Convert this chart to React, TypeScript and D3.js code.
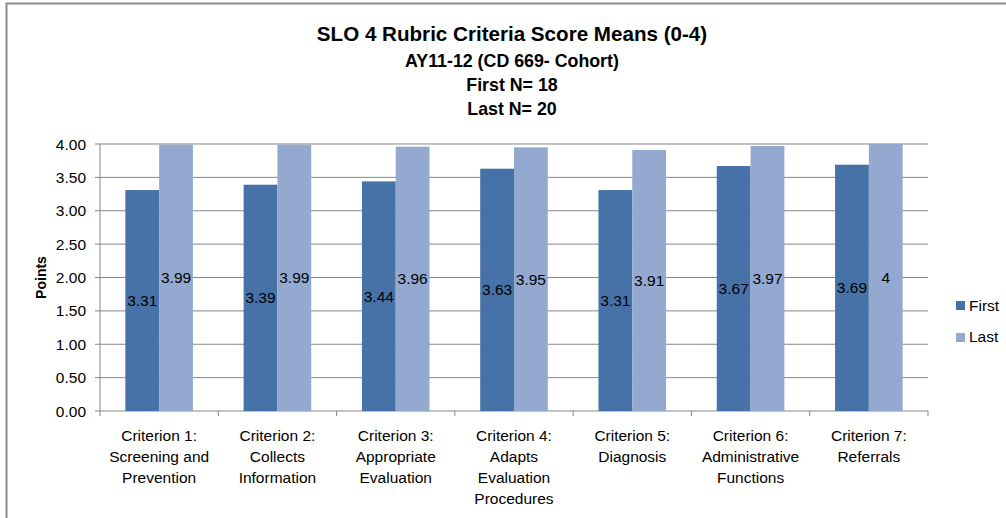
import React from "react";
import * as d3 from "d3";

const categories: string[][] = [
  ["Criterion 1:", "Screening and", "Prevention"],
  ["Criterion 2:", "Collects", "Information"],
  ["Criterion 3:", "Appropriate", "Evaluation"],
  ["Criterion 4:", "Adapts", "Evaluation", "Procedures"],
  ["Criterion 5:", "Diagnosis"],
  ["Criterion 6:", "Administrative", "Functions"],
  ["Criterion 7:", "Referrals"],
];
const firstValues = [3.31, 3.39, 3.44, 3.63, 3.31, 3.67, 3.69];
const lastValues = [3.99, 3.99, 3.96, 3.95, 3.91, 3.97, 4];
const firstLabels = ["3.31", "3.39", "3.44", "3.63", "3.31", "3.67", "3.69"];
const lastLabels = ["3.99", "3.99", "3.96", "3.95", "3.91", "3.97", "4"];
const yTicks = [0, 0.5, 1, 1.5, 2, 2.5, 3, 3.5, 4];
const seriesNames = ["First", "Last"];
const titleLines = ["SLO 4 Rubric Criteria Score Means (0-4)", "AY11-12 (CD 669- Cohort)", "First N= 18", "Last N= 20"];

const W = 1006;
const H = 518;
const FONT = "'Liberation Sans', Arial, sans-serif";
const COLORS = ["#4672A8", "#93A9D0"];

export default function App() {
  const left = 100, right = 928, top = 144, bottom = 411;
  const x = d3.scaleBand<number>().domain(d3.range(categories.length)).range([left, right]);
  const y = d3.scaleLinear().domain([0, 4]).range([bottom, top]);
  const bw = x.bandwidth() / 3.5;
  const series = [firstValues, lastValues];
  const labels = [firstLabels, lastLabels];

  return (
    <svg width={W} height={H} style={{ position: "absolute", left: 0, top: 0 }} fontFamily={FONT}>
      <rect x={0} y={0} width={W} height={H} fill="#fff" />
      <path d={`M6.5,${H} V3.5 H${W}`} fill="none" stroke="#8c8c8c" strokeWidth={2} />
      {titleLines.map((t, i) => (
        <text key={i} x={512} y={[41, 67, 91, 115][i]} textAnchor="middle" fontWeight="bold"
          fontSize={i === 0 ? 20.6 : 17.8} fill="#000">{t}</text>
      ))}
      {yTicks.map((t) => (
        <g key={t}>
          <line x1={left - 5} x2={right} y1={y(t)} y2={y(t)} stroke="#878787" strokeWidth={1} />
          <text x={left - 14} y={y(t)} dy="0.36em" textAnchor="end" fontSize={15.5} fill="#000">{t.toFixed(2)}</text>
        </g>
      ))}
      <line x1={left} x2={left} y1={top} y2={bottom} stroke="#878787" />
      {d3.range(categories.length + 1).map((i) => {
        const xx = left + i * x.step();
        return <line key={i} x1={xx} x2={xx} y1={bottom} y2={bottom + 5} stroke="#878787" />;
      })}
      {series.map((vals, s) =>
        vals.map((v, i) => {
          const bx = (x(i) as number) + bw * 0.75 + s * bw;
          return (
            <g key={`${s}-${i}`}>
              <rect x={bx} y={y(v)} width={bw} height={bottom - y(v)} fill={COLORS[s]} />
              <text x={bx + bw / 2} y={y(v / 2)} dy="0.36em" textAnchor="middle" fontSize={15.5} fill="#000">
                {labels[s][i]}
              </text>
            </g>
          );
        })
      )}
      {categories.map((lines, i) => (
        <text key={i} textAnchor="middle" fontSize={15.5} fill="#000">
          {lines.map((l, j) => (
            <tspan key={j} x={(x(i) as number) + x.bandwidth() / 2} y={441 + j * 21}>{l}</tspan>
          ))}
        </text>
      ))}
      <text transform={`translate(46,${(top + bottom) / 2}) rotate(-90)`} textAnchor="middle" fontWeight="bold" fontSize={14}>Points</text>
      {seriesNames.map((n, i) => (
        <g key={n}>
          <rect x={956} y={[301, 333][i]} width={9} height={9} fill={COLORS[i]} />
          <text x={969} y={[311, 342][i]} fontSize={15.5}>{n}</text>
        </g>
      ))}
    </svg>
  );
}
